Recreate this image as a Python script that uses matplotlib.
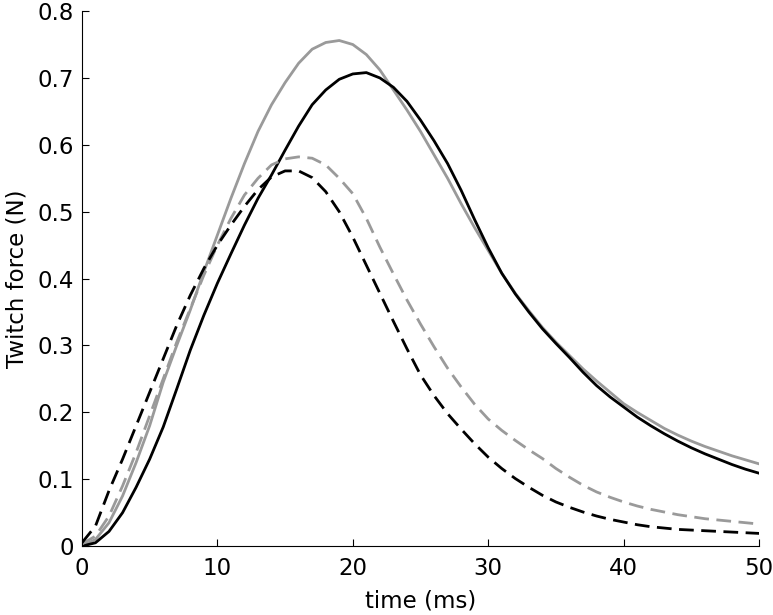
import matplotlib
matplotlib.use("Agg")
import matplotlib.pyplot as plt

# time axis (ms), sampled every 1 ms
t = list(range(0, 51))

# grey solid
force_grey = [0.000, 0.010, 0.035, 0.075, 0.125, 0.180, 0.245, 0.300, 0.353, 0.410,
              0.465, 0.520, 0.572, 0.620, 0.660, 0.693, 0.722, 0.743, 0.753, 0.756,
              0.750, 0.735, 0.712, 0.682, 0.652, 0.620, 0.585, 0.550, 0.512, 0.476,
              0.442, 0.408, 0.378, 0.352, 0.327, 0.305, 0.285, 0.265, 0.247, 0.230,
              0.213, 0.200, 0.188, 0.176, 0.166, 0.157, 0.149, 0.142, 0.135, 0.129,
              0.123]

# black solid
force_black = [0.000, 0.005, 0.022, 0.050, 0.088, 0.130, 0.178, 0.235, 0.293, 0.345,
               0.393, 0.437, 0.480, 0.520, 0.555, 0.592, 0.628, 0.660, 0.682, 0.698,
               0.706, 0.708, 0.700, 0.686, 0.665, 0.637, 0.606, 0.572, 0.532, 0.488,
               0.446, 0.408, 0.377, 0.350, 0.325, 0.303, 0.282, 0.260, 0.240, 0.223,
               0.208, 0.193, 0.180, 0.168, 0.157, 0.147, 0.138, 0.130, 0.122, 0.115,
               0.109]

# grey dashed
force_grey_d = [0.003, 0.015, 0.045, 0.090, 0.140, 0.195, 0.250, 0.305, 0.355, 0.405,
                0.450, 0.490, 0.525, 0.550, 0.570, 0.579, 0.582, 0.580, 0.570, 0.550,
                0.527, 0.490, 0.447, 0.407, 0.368, 0.332, 0.298, 0.266, 0.238, 0.212,
                0.190, 0.173, 0.158, 0.144, 0.131, 0.116, 0.103, 0.091, 0.081, 0.073,
                0.066, 0.060, 0.055, 0.051, 0.047, 0.044, 0.041, 0.039, 0.037, 0.035,
                0.033]

# black dashed
force_black_d = [0.005, 0.030, 0.083, 0.130, 0.180, 0.230, 0.280, 0.330, 0.375, 0.415,
                 0.450, 0.480, 0.508, 0.533, 0.552, 0.561, 0.561, 0.551, 0.530, 0.500,
                 0.462, 0.420, 0.378, 0.336, 0.295, 0.256, 0.225, 0.198, 0.175, 0.153,
                 0.133, 0.116, 0.101, 0.088, 0.076, 0.066, 0.058, 0.051, 0.045, 0.040,
                 0.036, 0.032, 0.029, 0.027, 0.025, 0.024, 0.023, 0.022, 0.021, 0.020,
                 0.019]

plt.rcParams['font.family'] = ['DejaVu Sans']

fig = plt.figure(figsize=(7.73, 6.15), dpi=100)
ax = fig.add_axes([0.106, 0.112, 0.876, 0.870])

grey = '#9a9a9a'
lw = 2.0
dash = (0, (5.3, 2.7))

ax.plot(t, force_grey, color=grey, lw=lw)
ax.plot(t, force_black, color='black', lw=lw)
ax.plot(t, force_grey_d, color=grey, lw=lw, linestyle=dash)
ax.plot(t, force_black_d, color='black', lw=lw, linestyle=dash)

ax.set_xlim(0, 50)
ax.set_ylim(0, 0.8)
ax.set_xticks([0, 10, 20, 30, 40, 50])
ax.set_yticks([0, 0.1, 0.2, 0.3, 0.4, 0.5, 0.6, 0.7, 0.8])
ax.set_yticklabels(['0', '0.1', '0.2', '0.3', '0.4', '0.5', '0.6', '0.7', '0.8'])

ax.spines['top'].set_visible(False)
ax.spines['right'].set_visible(False)
for s in ['left', 'bottom']:
    ax.spines[s].set_linewidth(0.8)
ax.tick_params(direction='in', length=5, width=0.8, labelsize=16.5)
ax.tick_params(axis='x', pad=8)
ax.tick_params(axis='y', pad=6)

ax.set_xlabel('time (ms)', fontsize=16.5, labelpad=7)
ax.set_ylabel('Twitch force (N)', fontsize=16.5, labelpad=6)

fig.savefig('out.png', dpi=100)
